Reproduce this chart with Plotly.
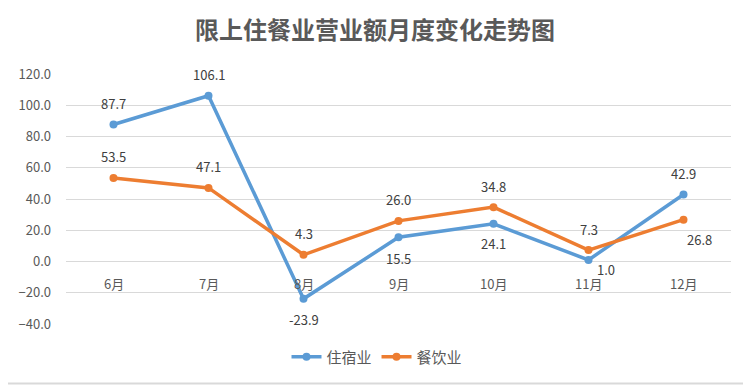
import plotly.graph_objects as go

categories = ["6月", "7月", "8月", "9月", "10月", "11月", "12月"]
zhusu = [87.7, 106.1, -23.9, 15.5, 24.1, 1.0, 42.9]
canyin = [53.5, 47.1, 4.3, 26.0, 34.8, 7.3, 26.8]
# label placement offsets (pixels) for data labels
zhusu_dy = [21, 21, -21, -21, -20, -10, 21]
zhusu_dx = [0, 0, 0, 0, 0, 17, 0]
canyin_dy = [21, 21, 21, 21, 21, 21, -20]
canyin_dx = [0, 0, 0, 0, 0, 0, 16]

BLUE = "#5B9BD5"
ORANGE = "#ED7D31"
FONT = "Noto Sans CJK SC, Noto Sans, sans-serif"

fig = go.Figure()
fig.add_trace(go.Scatter(x=categories, y=zhusu, name="住宿业", mode="lines+markers",
                         line=dict(color=BLUE, width=3.5), marker=dict(size=8, color=BLUE)))
fig.add_trace(go.Scatter(x=categories, y=canyin, name="餐饮业", mode="lines+markers",
                         line=dict(color=ORANGE, width=3.5), marker=dict(size=8, color=ORANGE)))

ann = []
for vals, dys, dxs in [(zhusu, zhusu_dy, zhusu_dx), (canyin, canyin_dy, canyin_dx)]:
    for c, v, dy, dx in zip(categories, vals, dys, dxs):
        ann.append(dict(x=c, y=v, xref="x", yref="y", text=f"{v:.1f}", showarrow=False,
                        yshift=dy, xshift=dx, font=dict(family=FONT, size=13, color="#404040")))
for c in categories:
    ann.append(dict(x=c, y=0, xref="x", yref="y", text=c, showarrow=False, yshift=-22,
                    font=dict(family=FONT, size=13, color="#595959")))

# page has an 8px body margin; compensate so the chart lands where the reference has it
W, H = 743, 377
L, R, T, B = 58, 20, 66, 61
pw, ph = W - L - R, H - T - B

fig.update_layout(
    width=W, height=H,
    margin=dict(l=L, r=R, t=T, b=B),
    paper_bgcolor="white", plot_bgcolor="white",
    title=dict(text="<b>限上住餐业营业额月度变化走势图</b>", x=367 / W, xanchor="center",
               y=1 - 23 / H, yanchor="middle",
               font=dict(family=FONT, size=24, color="#595959")),
    xaxis=dict(showticklabels=False, showgrid=False, zeroline=False, showline=False,
               range=[-0.5, 6.5], fixedrange=True),
    yaxis=dict(range=[-40, 120], dtick=20, tickformat=".1f", showgrid=True,
               gridcolor="#D9D9D9", gridwidth=1, zeroline=False, showline=False,
               ticks="", ticklabelstandoff=14,
               tickfont=dict(family=FONT, size=13, color="#595959")),
    legend=dict(orientation="h", x=(369 - L) / pw, xanchor="center",
                y=-(349 - (T + ph)) / ph, yanchor="middle",
                font=dict(family=FONT, size=15, color="#595959")),
    annotations=ann,
    shapes=[
        dict(type="line", xref="paper", yref="paper",
             x0=(741.5 - L) / pw, x1=(741.5 - L) / pw, y0=(T + ph - H) / ph, y1=(T + ph + 0) / ph,
             line=dict(color="#D9D9D9", width=2), layer="below"),
        dict(type="line", xref="paper", yref="paper",
             x0=-L / pw, x1=1 + R / pw, y0=(T + ph - 375.5) / ph, y1=(T + ph - 375.5) / ph,
             line=dict(color="#D9D9D9", width=2), layer="below"),
    ],
)

fig.write_html("out.html")
